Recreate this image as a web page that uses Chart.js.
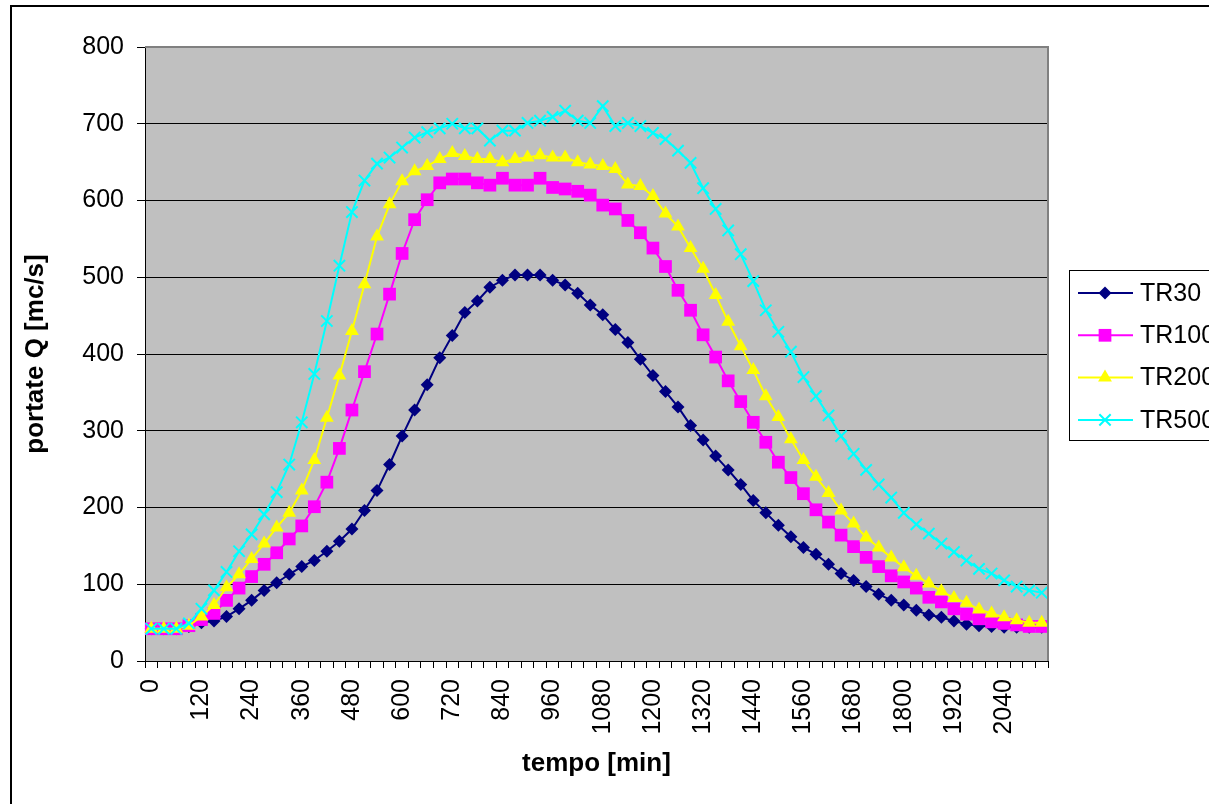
<!DOCTYPE html>
<html>
<head>
<meta charset="utf-8">
<script src="https://cdn.jsdelivr.net/npm/chart.js@4.4.0/dist/chart.umd.min.js"></script>
<style>
  body { margin: 0; background: #fff; }
  #wrap { width: 1209px; height: 804px; }
</style>
</head>
<body>
<div id="wrap"><canvas id="portate" width="1209" height="804"></canvas></div>
<script>
// idrogrammi di piena per i diversi tempi di ritorno

const minutes = [
  0, 30, 60, 90, 120, 150, 180, 210, 240, 270, 300, 330,
  360, 390, 420, 450, 480, 510, 540, 570, 600, 630, 660, 690,
  720, 750, 780, 810, 840, 870, 900, 930, 960, 990, 1020, 1050,
  1080, 1110, 1140, 1170, 1200, 1230, 1260, 1290, 1320, 1350, 1380, 1410,
  1440, 1470, 1500, 1530, 1560, 1590, 1620, 1650, 1680, 1710, 1740, 1770,
  1800, 1830, 1860, 1890, 1920, 1950, 1980, 2010, 2040, 2070, 2100, 2130
];

const tr30 = [
  42, 42, 42, 45, 50, 52, 58, 68, 79, 92, 102, 113,
  123, 131, 143, 156, 172, 196, 222, 256, 293, 327, 360, 395,
  424, 454, 469, 487, 496, 503, 503, 503, 496, 490, 479, 464,
  451, 432, 415, 393, 372, 351, 331, 307, 288, 267, 249, 230,
  209, 193, 177, 162, 148, 139, 126, 114, 105, 97, 87, 79,
  73, 66, 60, 57, 52, 48, 46, 45, 44, 44, 44, 44
];

const tr100 = [
  42, 42, 42, 46, 54, 62, 79, 95, 110, 126, 141, 159,
  176, 201, 233, 277, 327, 377, 426, 478, 531, 575, 601, 623,
  628, 628, 623, 620, 629, 620, 620, 629, 617, 615, 612, 607,
  594, 589, 574, 558, 538, 514, 483, 457, 425, 396, 365, 338,
  311, 285, 259, 239, 218, 197, 181, 164, 149, 135, 123, 111,
  103, 95, 83, 77, 68, 61, 55, 51, 49, 47, 45, 45
];

const tr200 = [
  42, 42, 42, 46, 58, 73, 96, 113, 133, 153, 174, 193,
  222, 262, 317, 372, 430, 491, 553, 595, 625, 638, 645, 654,
  662, 658, 654, 654, 650, 654, 656, 659, 656, 656, 650, 647,
  645, 641, 621, 619, 606, 583, 566, 538, 511, 477, 442, 410,
  379, 345, 318, 289, 262, 240, 219, 196, 179, 161, 148, 135,
  122, 111, 101, 91, 82, 76, 67, 62, 57, 53, 50, 50
];

const tr500 = [
  42, 42, 42, 49, 68, 92, 116, 143, 165, 191, 220, 256,
  311, 374, 443, 515, 585, 626, 648, 656, 669, 682, 689, 694,
  700, 694, 694, 678, 691, 691, 701, 704, 709, 717, 704, 701,
  723, 697, 701, 697, 688, 680, 665, 649, 616, 589, 561, 530,
  495, 457, 429, 403, 370, 345, 320, 293, 270, 249, 230, 213,
  193, 178, 166, 153, 142, 131, 120, 114, 105, 97, 92, 89
];

const seriesNames = ['TR30', 'TR100', 'TR200', 'TR500'];
const yTicks = [0, 100, 200, 300, 400, 500, 600, 700, 800];

const FONT = "'Liberation Sans', Arial, sans-serif";

function markerPath(ctx, style, r, x, y) {
  ctx.beginPath();
  if (style === 'rectRot') {
    ctx.moveTo(x, y - r); ctx.lineTo(x + r, y); ctx.lineTo(x, y + r); ctx.lineTo(x - r, y);
    ctx.closePath();
  } else if (style === 'rect') {
    const s = r * Math.SQRT1_2;
    ctx.rect(x - s, y - s, 2 * s, 2 * s);
  } else if (style === 'triangle') {
    ctx.moveTo(x, y - r);
    ctx.lineTo(x + r * 0.866, y + r * 0.5);
    ctx.lineTo(x - r * 0.866, y + r * 0.5);
    ctx.closePath();
  } else {
    const d = r * Math.SQRT1_2;
    ctx.moveTo(x - d, y - d); ctx.lineTo(x + d, y + d);
    ctx.moveTo(x + d, y - d); ctx.lineTo(x - d, y + d);
  }
}

const frame = {
  id: 'frame',
  beforeDraw(chart) {
    const { ctx, chartArea: a } = chart;
    ctx.save();
    ctx.fillStyle = '#fff';
    ctx.fillRect(0, 0, chart.width, chart.height);
    ctx.strokeStyle = '#000';
    ctx.lineWidth = 2;
    ctx.strokeRect(11, 6, chart.width + 20, chart.height + 20);
    ctx.fillStyle = '#c0c0c0';
    ctx.fillRect(a.left, a.top, a.right - a.left, a.bottom - a.top);
    ctx.restore();
  },
  afterDraw(chart) {
    const { ctx, chartArea: a } = chart;
    ctx.save();
    ctx.strokeStyle = '#808080';
    ctx.lineWidth = 2;
    ctx.beginPath();
    ctx.moveTo(a.left, a.top);
    ctx.lineTo(a.right, a.top);
    ctx.lineTo(a.right, a.bottom);
    ctx.stroke();

    // legenda
    ctx.strokeStyle = '#000';
    ctx.lineWidth = 1;
    ctx.strokeRect(1069.5, 270.5, 200, 170);
    ctx.font = '25px ' + FONT;
    ctx.textBaseline = 'middle';
    ctx.textAlign = 'left';
    chart.data.datasets.forEach((ds, i) => {
      const y = 293 + i * 42.3;
      ctx.strokeStyle = ds.borderColor;
      ctx.lineWidth = 2;
      ctx.beginPath();
      ctx.moveTo(1078, y);
      ctx.lineTo(1133, y);
      ctx.stroke();
      markerPath(ctx, ds.pointStyle, ds.pointRadius, 1105, y);
      if (ds.pointStyle === 'crossRot') {
        ctx.strokeStyle = ds.pointBorderColor;
        ctx.stroke();
      } else {
        ctx.fillStyle = ds.pointBackgroundColor;
        ctx.fill();
      }
      ctx.fillStyle = '#000';
      ctx.fillText(ds.label, 1140, y + 1);
    });
    ctx.restore();
  }
};

function series(label, data, color, style, radius, order) {
  return {
    label: label,
    data: data,
    borderColor: color,
    backgroundColor: color,
    borderWidth: 2,
    pointStyle: style,
    pointRadius: radius,
    pointHoverRadius: radius,
    pointBackgroundColor: color,
    pointBorderColor: color,
    pointBorderWidth: style === 'crossRot' ? 2 : 0,
    tension: 0,
    order: order
  };
}

new Chart(document.getElementById('portate'), {
  type: 'line',
  data: {
    labels: minutes.map(String),
    datasets: [
      series(seriesNames[0], tr30, '#000080', 'rectRot', 6.5, 3),
      series(seriesNames[1], tr100, '#ff00ff', 'rect', 9, 2),
      series(seriesNames[2], tr200, '#ffff00', 'triangle', 8, 1),
      series(seriesNames[3], tr500, '#00ffff', 'crossRot', 8, 0)
    ]
  },
  options: {
    responsive: false,
    animation: false,
    layout: { padding: { left: 0, top: 47, right: 161, bottom: 0 } },
    plugins: {
      legend: { display: false },
      tooltip: { enabled: false }
    },
    scales: {
      x: {
        type: 'category',
        offset: true,
        grid: { offset: true, drawOnChartArea: false, tickLength: 7, color: '#000', lineWidth: 1 },
        border: { color: '#000', width: 1 },
        ticks: {
          autoSkip: false,
          minRotation: 90,
          maxRotation: 90,
          padding: 11,
          color: '#000',
          font: { family: FONT, size: 25 },
          callback: (v, i) => (i % 4 === 0 ? minutes[i] : '')
        },
        title: {
          display: true,
          text: 'tempo [min]',
          color: '#000',
          font: { family: FONT, size: 26, weight: 'bold' },
          padding: { top: 0, bottom: 25 }
        },
        afterFit: s => { s.height = 143; }
      },
      y: {
        min: 0,
        max: 800,
        afterBuildTicks: s => { s.ticks = yTicks.map(v => ({ value: v })); },
        grid: { color: '#000', lineWidth: 1, tickLength: 8 },
        border: { color: '#000', width: 1 },
        ticks: {
          padding: 13,
          color: '#000',
          font: { family: FONT, size: 25 }
        },
        title: {
          display: true,
          text: 'portate Q [mc/s]',
          color: '#000',
          font: { family: FONT, size: 26, weight: 'bold' },
          padding: { top: 20, bottom: 0 }
        },
        afterFit: s => { s.width = 145; }
      }
    }
  },
  plugins: [frame]
});
</script>
</body>
</html>
